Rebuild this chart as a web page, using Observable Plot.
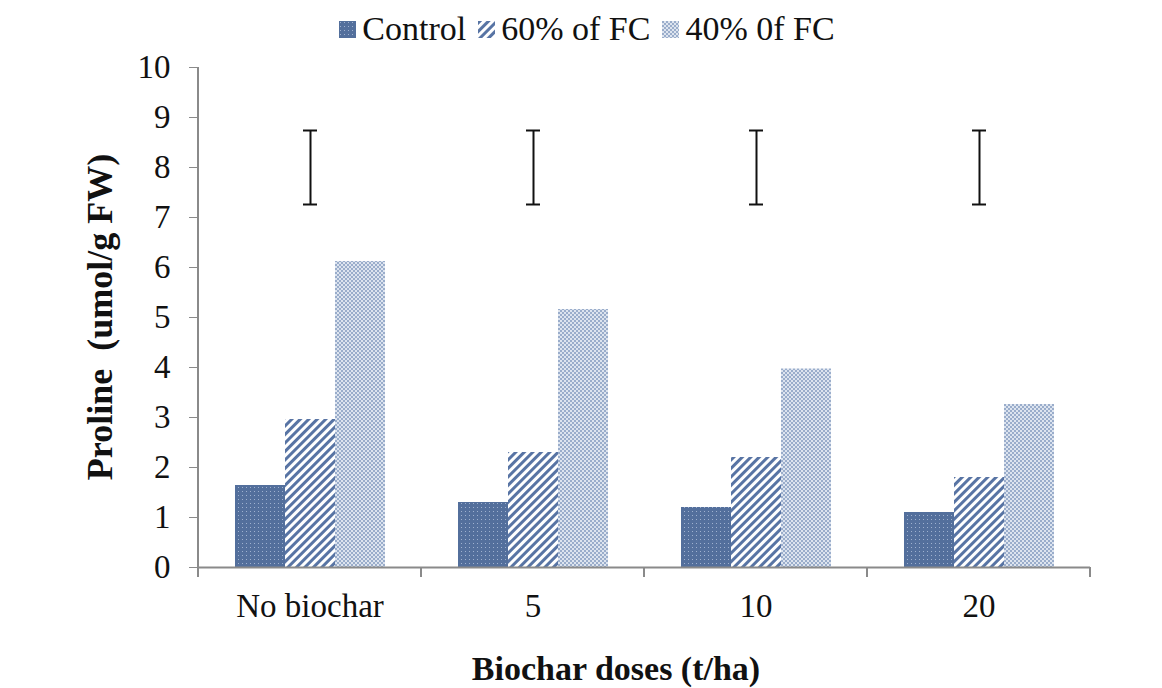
<!DOCTYPE html>
<html>
<head>
<meta charset="utf-8">
<script src="https://cdn.jsdelivr.net/npm/d3@7"></script>
<script src="https://cdn.jsdelivr.net/npm/@observablehq/plot@0.6"></script>
<style>
  body { margin: 0; background: #fff; font-family: "Liberation Serif", "Times New Roman", serif; }
  #legend { height: 46px; display: flex; align-items: flex-end; justify-content: center; padding-left: 12px;
            font-family: "Liberation Serif", "Times New Roman", serif; font-size: 34px; color: #111; line-height: 1; }
  #legend .item { display: flex; align-items: center; margin: 0 6px; }
  #legend svg { margin-right: 6px; }
</style>
</head>
<body>
<svg width="0" height="0" style="position:absolute">
  <defs>
    <pattern id="pControl" patternUnits="userSpaceOnUse" width="4" height="4">
      <rect width="4" height="4" fill="#536f9c"></rect>
      <rect x="1" y="1" width="1" height="1" fill="#9fb1cf"></rect>
    </pattern>
    <pattern id="p60" patternUnits="userSpaceOnUse" width="6" height="6" patternTransform="rotate(45)">
      <rect width="6" height="6" fill="#ffffff"></rect>
      <rect width="3" height="6" fill="#5874a4"></rect>
    </pattern>
    <pattern id="p40" patternUnits="userSpaceOnUse" width="4" height="4">
      <rect width="4" height="4" fill="#dde4ef"></rect>
      <rect width="2" height="2" fill="#9aadcb"></rect>
      <rect x="2" y="2" width="2" height="2" fill="#9aadcb"></rect>
    </pattern>
  </defs>
</svg>
<div id="legend"></div>
<div id="chart"></div>
<script>
const groups = ["No biochar", "5", "10", "20"];
const seriesNames = ["Control", "60% of FC", "40% 0f FC"];
const controlValues = [1.64, 1.30, 1.20, 1.10];
const fc60Values = [2.96, 2.30, 2.20, 1.80];
const fc40Values = [6.12, 5.16, 3.97, 3.26];
const lsdLow = [7.26, 7.26, 7.26, 7.26];
const lsdHigh = [8.74, 8.74, 8.74, 8.74];
const yTicks = [0, 1, 2, 3, 4, 5, 6, 7, 8, 9, 10];
const xTitle = "Biochar doses (t/ha)";
const yTitle = "Proline  (umol/g FW)";

const patterns = {"Control": "url(#pControl)", "60% of FC": "url(#p60)", "40% 0f FC": "url(#p40)"};
const seriesValues = [controlValues, fc60Values, fc40Values];

const data = [];
seriesNames.forEach((s, si) => groups.forEach((g, gi) => data.push({group: g, series: s, value: seriesValues[si][gi]})));
const err = groups.map((g, i) => ({group: g, series: seriesNames[1], lo: lsdLow[i], hi: lsdHigh[i]}));

// legend
const legend = d3.select("#legend");
seriesNames.forEach(s => {
  const it = legend.append("div").attr("class", "item");
  const sv = it.append("svg").attr("width", 17).attr("height", 17);
  sv.append("rect").attr("width", 17).attr("height", 17).attr("fill", patterns[s]);
  it.append("span").text(s);
});

const W = 1162, H = 642;
const chart = Plot.plot({
  width: W,
  height: H,
  marginTop: 21,
  marginBottom: 121,
  marginLeft: 197,
  marginRight: 72,
  style: {fontFamily: "Liberation Serif", fontSize: "33px", color: "#111", background: "#fff"},
  fx: {domain: groups, padding: 0, label: null},
  x: {domain: seriesNames, paddingInner: 0, paddingOuter: 0.73, axis: null},
  y: {domain: [0, 10], ticks: yTicks, label: null},
  marks: [
    Plot.axisY({ticks: yTicks, tickSize: 9, tickPadding: 19, stroke: "#8a8a8a", label: null, tickFormat: d => String(d)}),
    Plot.axisFx({anchor: "bottom", tickSize: 0, tickPadding: 26, label: null}),
    ...seriesNames.map(s => Plot.barY(data.filter(d => d.series === s), {fx: "group", x: "series", y: "value", fill: patterns[s]})),
    Plot.ruleY([0], {stroke: "#8a8a8a", strokeWidth: 2}),
    Plot.ruleX(err, {fx: "group", x: "series", y1: "lo", y2: "hi", stroke: "#111", strokeWidth: 2}),
    Plot.tickY(err, {fx: "group", x: "series", y: "lo", stroke: "#111", strokeWidth: 2, insetLeft: 18, insetRight: 18}),
    Plot.tickY(err, {fx: "group", x: "series", y: "hi", stroke: "#111", strokeWidth: 2, insetLeft: 18, insetRight: 18})
  ]
});
document.getElementById("chart").appendChild(chart);

const svg = d3.select(chart);
const fx = chart.scale("fx");
const y = chart.scale("y");
const y0 = y.apply(0), y10 = y.apply(10);
const left = fx.apply(groups[0]);
const right = fx.apply(groups[groups.length - 1]) + fx.bandwidth;
// y axis line
svg.append("line").attr("x1", left).attr("x2", left).attr("y1", y10).attr("y2", y0)
  .attr("stroke", "#8a8a8a").attr("stroke-width", 2);
// boundary ticks on x axis
const bounds = groups.map(g => fx.apply(g)).concat([right]);
bounds.forEach(b => svg.append("line").attr("x1", b).attr("x2", b).attr("y1", y0).attr("y2", y0 + 10)
  .attr("stroke", "#8a8a8a").attr("stroke-width", 2));
// axis titles
svg.append("text").attr("x", (left + right) / 2 - 28).attr("y", y0 + 113)
  .attr("text-anchor", "middle").attr("font-weight", "bold").attr("font-size", 34).attr("fill", "#111")
  .text(xTitle);
svg.append("text").attr("transform", `translate(${left - 86},${(y0 + y10) / 2}) rotate(-90)`)
  .attr("text-anchor", "middle").attr("font-weight", "bold").attr("font-size", 36).attr("fill", "#111")
  .style("white-space", "pre")
  .text(yTitle);
</script>
</body>
</html>
